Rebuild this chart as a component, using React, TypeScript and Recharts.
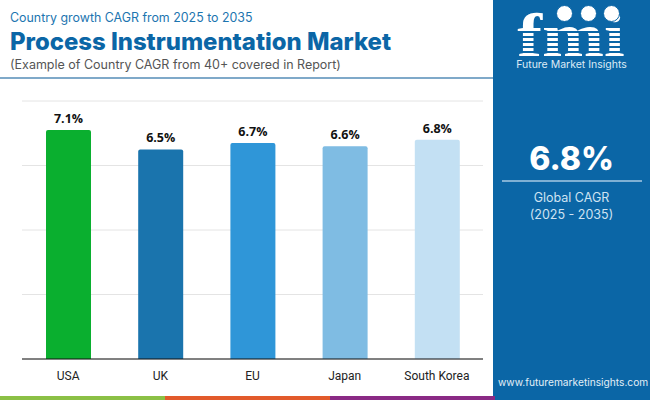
import { BarChart, Bar, Cell, CartesianGrid, LabelList, XAxis, YAxis } from 'recharts';

const countries = ['USA', 'UK', 'EU', 'Japan', 'South Korea'];
const cagrValues = [7.1, 6.5, 6.7, 6.6, 6.8];
const barColors = ['#0aaf2f', '#1a74ad', '#2f96d8', '#7fbce3', '#c3e0f3'];
const yTicks = [0, 2, 4, 6, 8];
const stripeColors = ['#8bc045', '#e25a2b', '#8a2a85'];

const chartData = countries.map((country, i) => ({ country, cagr: cagrValues[i] }));

const PANEL = '#0b66a6';

function abs(left: number, top: number, extra: React.CSSProperties = {}): React.CSSProperties {
  return { position: 'absolute', left, top, whiteSpace: 'nowrap', ...extra };
}

function Logo() {
  return (
    <div style={abs(511, 0, { width: 120, height: 58 })}>
      <div
        style={abs(0, 10, {
          width: 120,
          textAlign: 'center',
          fontFamily: '"Liberation Serif", serif',
          fontWeight: 700,
          fontSize: 62,
          lineHeight: '50px',
          color: '#fff',
          transform: 'scaleX(1.2)',
        })}
      >
        fmi
      </div>
      {[31, 36, 41, 46, 51].map((y) => (
        <div key={y} style={abs(0, y, { width: 120, height: 1.5, background: PANEL })} />
      ))}
      {[54, 78, 101].map((x) => (
        <div
          key={x}
          style={abs(x - 9, 5, {
            width: 15,
            height: 15,
            borderRadius: 10,
            background: '#fff',
            border: `1.5px solid ${PANEL}`,
          })}
        />
      ))}
    </div>
  );
}

export default function App() {
  return (
    <div style={{ position: 'absolute', left: 0, top: 0, width: 650, height: 400, background: '#fff', overflow: 'hidden' }}>
      <div style={abs(10, 10, { fontFamily: 'Inter', fontSize: 12.4, color: '#1c75b0' })}>
        Country growth CAGR from 2025 to 2035
      </div>
      <div style={abs(10, 27, { fontFamily: 'Inter', fontWeight: 800, fontSize: 23.9, color: '#0b66a6' })}>
        Process Instrumentation Market
      </div>
      <div style={abs(10, 57, { fontFamily: 'Inter', fontSize: 12.5, color: '#555' })}>
        (Example of Country CAGR from 40+ covered in Report)
      </div>
      <div style={abs(0, 77, { width: 493, height: 2, background: '#7fa9c9' })} />

      <div style={abs(0, 0)}>
        <BarChart
          width={650}
          height={400}
          data={chartData}
          margin={{ top: 101, right: 167, bottom: 0, left: 22 }}
          barCategoryGap={0}
        >
          <CartesianGrid horizontal vertical={false} stroke="#e4e4e4" />
          <XAxis
            dataKey="country"
            height={41}
            tickLine={false}
            axisLine={{ stroke: '#111', strokeWidth: 1 }}
            tickMargin={6}
            interval={0}
            tick={{ fontFamily: 'Roboto', fontSize: 12, fill: '#222' }}
          />
          <YAxis hide width={0} domain={[0, 8]} ticks={yTicks} />
          <Bar dataKey="cagr" barSize={45} radius={[2, 2, 0, 0]} isAnimationActive={false}>
            {chartData.map((d, i) => (
              <Cell key={d.country} fill={barColors[i]} />
            ))}
            <LabelList
              dataKey="cagr"
              position="top"
              offset={7}
              formatter={(v: number) => `${v.toFixed(1)}%`}
              style={{ fontFamily: '"Open Sans"', fontWeight: 700, fontSize: 12.5, fill: '#111' }}
            />
          </Bar>
        </BarChart>
      </div>

      <div style={abs(493, 0, { width: 157, height: 400, background: PANEL })} />
      <Logo />
      <div style={abs(493, 58, { width: 157, textAlign: 'center', fontFamily: 'Inter', fontSize: 10.5, color: '#dcebf6' })}>
        Future Market Insights
      </div>
      <div style={abs(493, 139, { width: 157, textAlign: 'center', fontFamily: 'Inter', fontWeight: 800, fontSize: 32, color: '#fff' })}>
        6.8%
      </div>
      <div style={abs(502, 180, { width: 140, height: 1.5, background: '#7fb0d4' })} />
      <div style={abs(493, 189, { width: 157, textAlign: 'center', fontFamily: 'Inter', fontSize: 12.5, lineHeight: '17px', color: '#cfe3f2' })}>
        Global CAGR
        <br />
        (2025 - 2035)
      </div>
      <div style={abs(498, 376, { fontFamily: 'Inter', fontSize: 10.2, color: '#e3eff8' })}>
        www.futuremarketinsights.com
      </div>

      {stripeColors.map((c, i) => (
        <div key={c} style={abs(i * 165, 396, { width: 165, height: 4, background: c })} />
      ))}
    </div>
  );
}
